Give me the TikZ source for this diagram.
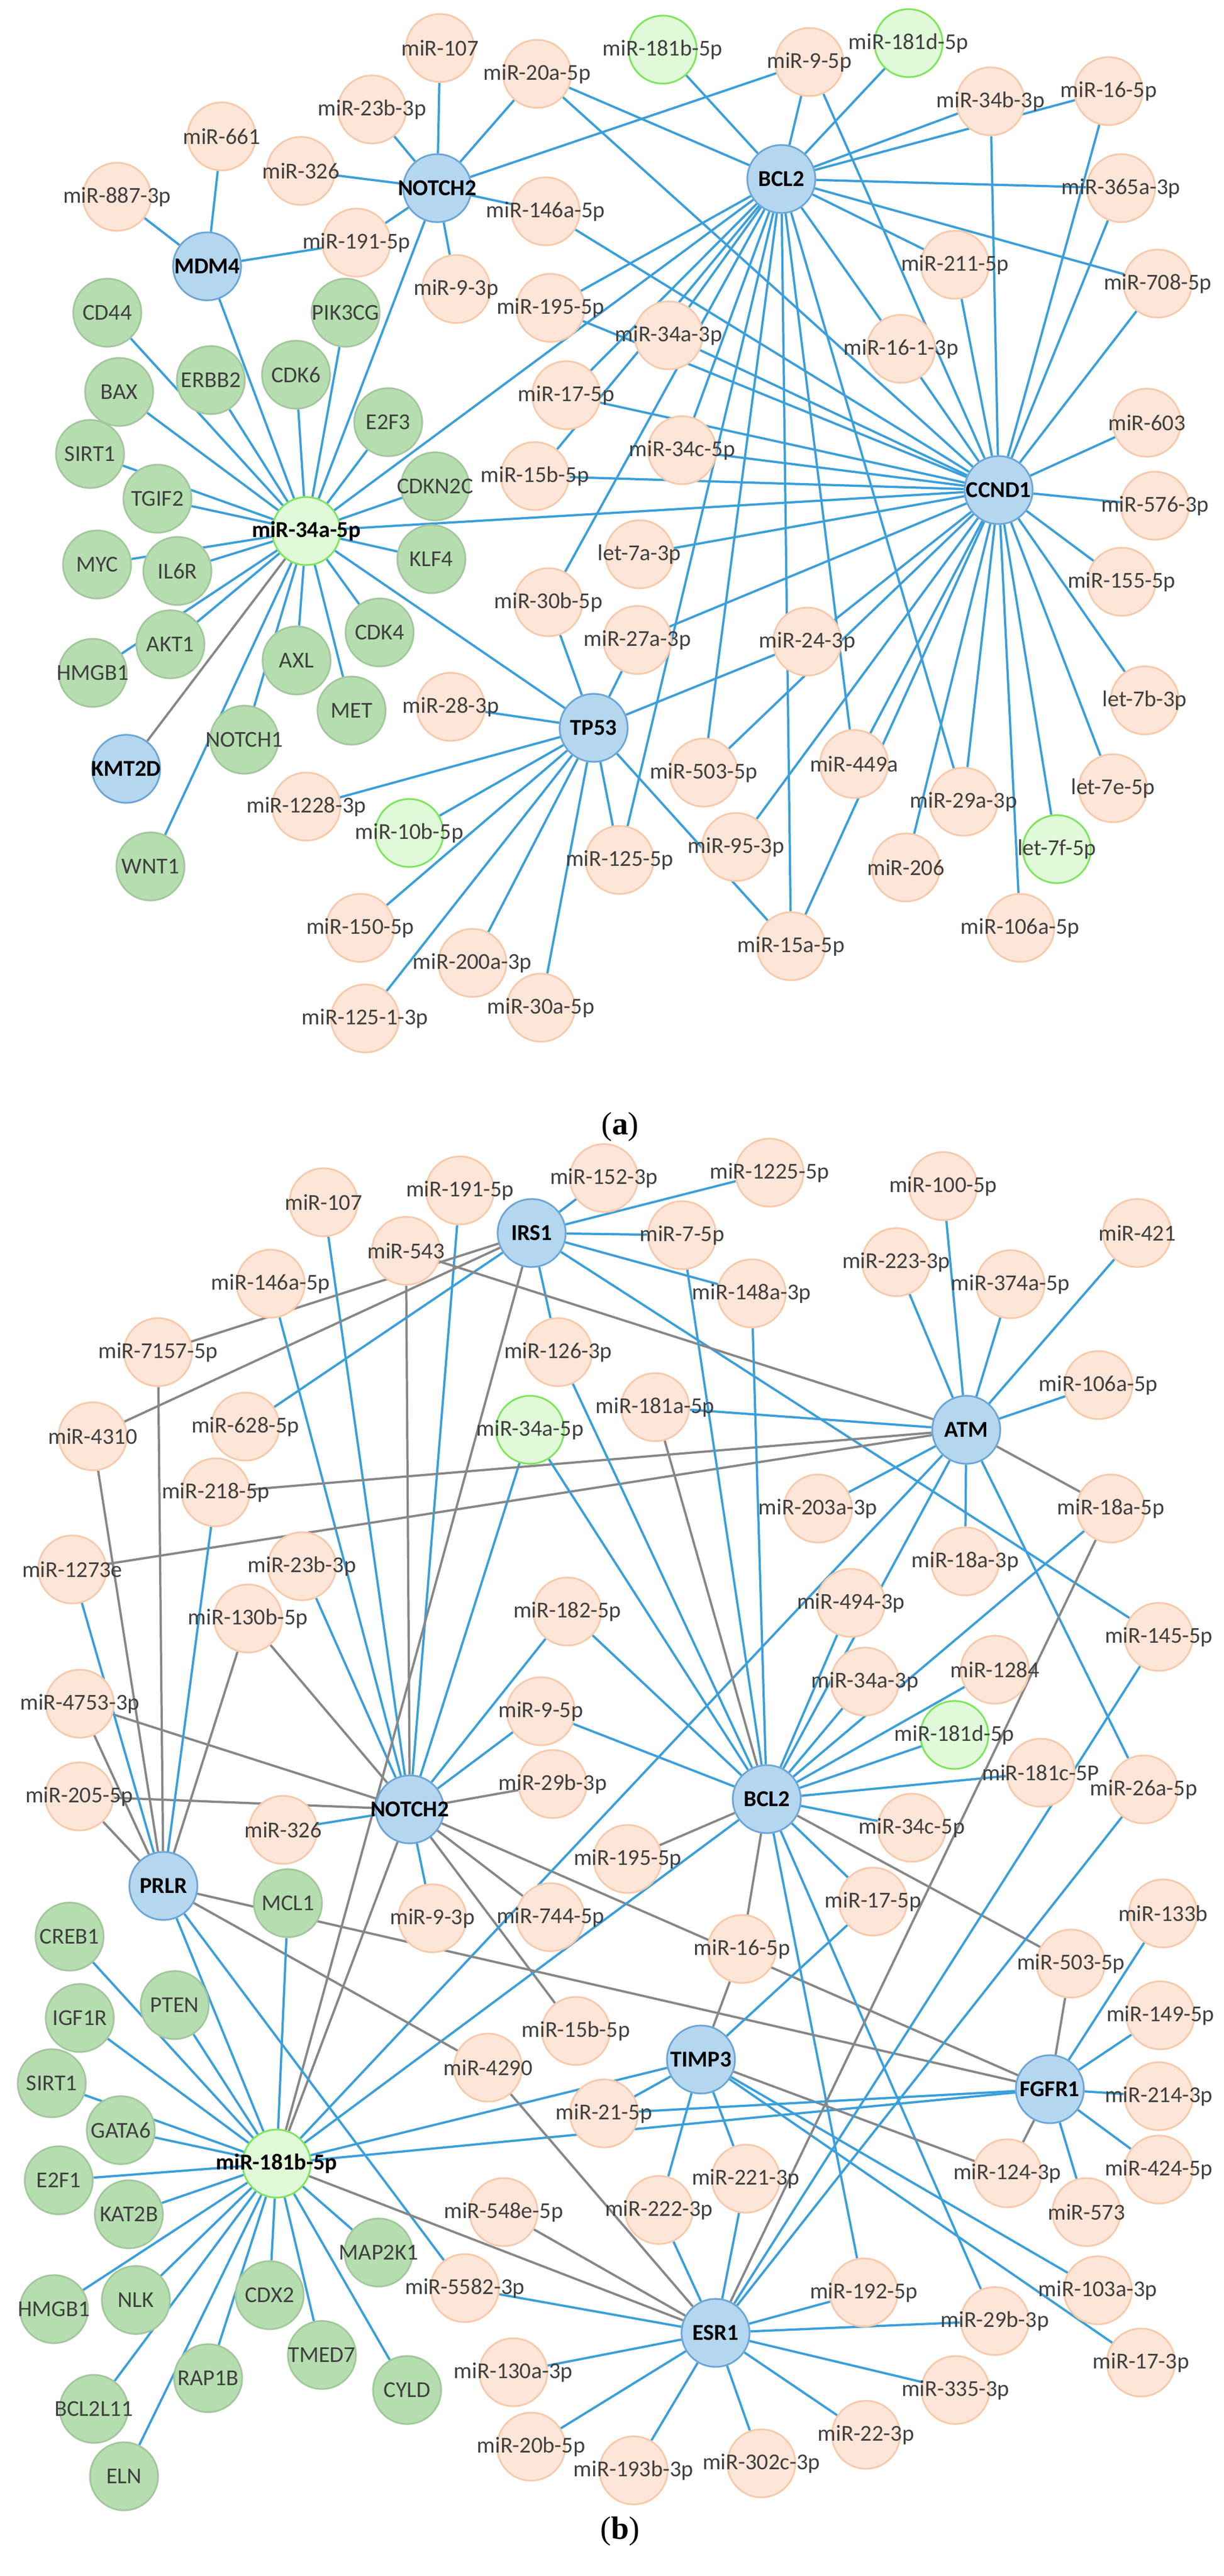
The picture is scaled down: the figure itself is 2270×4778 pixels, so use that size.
\documentclass[tikz,border=0pt]{standalone}
\usepackage{fontspec}
\setmainfont{Carlito}
\newfontfamily\capfont{Liberation Serif}
\usetikzlibrary{backgrounds}
\definecolor{mirfill}{HTML}{FDE6D8}
\definecolor{mirline}{HTML}{F8C9A9}
\definecolor{hubfill}{HTML}{B5D6EF}
\definecolor{hubline}{HTML}{6BA6D8}
\definecolor{genefill}{HTML}{B5DDAF}
\definecolor{lgfill}{HTML}{E0F9D8}
\definecolor{lgline}{HTML}{7CE65A}
\definecolor{edgeblue}{HTML}{3A9FDB}
\definecolor{edgegray}{HTML}{878787}
\begin{document}
\begin{tikzpicture}[x=0.01cm,y=-0.01cm,
  base/.style={circle,minimum size=12.6mm,inner sep=0pt,line width=0.9pt,
    label={[font=\fontsize{12}{14}\selectfont,text=black!75]center:#1}},
  mir/.style={base=#1,draw=mirline,fill=mirfill},
  mirg/.style={base=#1,draw=lgline,fill=lgfill},
  gene/.style={base=#1,draw=genefill!90!black,fill=genefill},
  hub/.style={circle,minimum size=12.6mm,inner sep=0pt,line width=0.9pt,draw=hubline,fill=hubfill,
    label={[font=\fontsize{12}{14}\selectfont\bfseries]center:#1}},
  mhub/.style={circle,minimum size=12.6mm,inner sep=0pt,line width=0.9pt,draw=lgline,fill=lgfill,
    label={[font=\fontsize{12}{14}\selectfont\bfseries]center:#1}},
  bl/.style={draw=edgeblue,line width=1.2pt},
  gr/.style={draw=edgegray,line width=1.2pt}]
\useasboundingbox (0,0) rectangle (2270,4778);

% ---------- panel (a) ----------
\node[mir=miR-107] (a107) at (816,89) {};
\node[mir=miR-20a-5p] (a20a) at (996,137) {};
\node[mirg=miR-181b-5p] (a181b) at (1229,92) {};
\node[mir=miR-9-5p] (a9f) at (1501,115) {};
\node[mirg=miR-181d-5p] (a181d) at (1685,80) {};
\node[mir=miR-23b-3p] (a23b) at (690,203) {};
\node[mir=miR-661] (a661) at (411,253) {};
\node[mir=miR-326] (a326) at (558,317) {};
\node[hub=NOTCH2] (aNOTCH2) at (811,349) {};
\node[mir=miR-887-3p] (a887) at (217,365) {};
\node[mir=miR-146a-5p] (a146a) at (1012,392) {};
\node[hub=BCL2] (aBCL2) at (1449,332) {};
\node[mir=miR-34b-3p] (a34b) at (1837,188) {};
\node[mir=miR-16-5p] (a16) at (2056,169) {};
\node[mir=miR-365a-3p] (a365a) at (2079,349) {};
\node[hub=MDM4] (aMDM4) at (384,494) {};
\node[mir=miR-191-5p] (a191) at (661,450) {};
\node[mir=miR-9-3p] (a9t) at (846,536) {};
\node[mir=miR-195-5p] (a195) at (1021,571) {};
\node[mir=miR-211-5p] (a211) at (1771,491) {};
\node[mir=miR-708-5p] (a708) at (2147,526) {};
\node[gene=CD44] (aCD44) at (199,580) {};
\node[gene=PIK3CG] (aPIK3CG) at (641,580) {};
\node[gene=ERBB2] (aERBB2) at (391,705) {};
\node[gene=CDK6] (aCDK6) at (549,695) {};
\node[gene=BAX] (aBAX) at (221,727) {};
\node[gene=E2F3] (aE2F3) at (720,783) {};
\node[gene=SIRT1] (aSIRT1) at (167,842) {};
\node[gene=TGIF2] (aTGIF2) at (292,925) {};
\node[gene=CDKN2C] (aCDKN2C) at (807,902) {};
\node[gene=MYC] (aMYC) at (180,1047) {};
\node[gene=IL6R] (aIL6R) at (329,1059) {};
\node[gene=KLF4] (aKLF4) at (800,1037) {};
\node[gene=AKT1] (aAKT1) at (316,1195) {};
\node[gene=HMGB1] (aHMGB1) at (172,1248) {};
\node[gene=CDK4] (aCDK4) at (704,1173) {};
\node[gene=AXL] (aAXL) at (550,1225) {};
\node[gene=MET] (aMET) at (652,1318) {};
\node[gene=NOTCH1] (aNOTCH1) at (453,1372) {};
\node[gene=WNT1] (aWNT1) at (279,1607) {};
\node[mir=miR-17-5p] (a17) at (1050,733) {};
\node[mir=miR-34a-3p] (a34a3) at (1240,622) {};
\node[mir=miR-16-1-3p] (a161) at (1671,647) {};
\node[mir=miR-15b-5p] (a15b) at (992,883) {};
\node[mir=miR-34c-5p] (a34c) at (1265,835) {};
\node[mir=miR-603] (a603) at (2127,784) {};
\node[hub=CCND1] (aCCND1) at (1852,909) {};
\node[mir=miR-576-3p] (a576) at (2142,938) {};
\node[mhub=miR-34a-5p] (a34a5) at (568,985) {};
\node[mir=let-7a-3p] (alet7a) at (1186,1028) {};
\node[mir=miR-155-5p] (a155) at (2080,1079) {};
\node[mir=miR-30b-5p] (a30b) at (1017,1117) {};
\node[mir=miR-27a-3p] (a27a) at (1182,1187) {};
\node[mir=miR-24-3p] (a24) at (1497,1190) {};
\node[mir=let-7b-3p] (alet7b) at (2123,1299) {};
\node[mir=miR-28-3p] (a28) at (836,1311) {};
\node[hub=TP53] (aTP53) at (1101,1350) {};
\node[hub=KMT2D] (aKMT2D) at (234,1426) {};
\node[mir=miR-503-5p] (a503) at (1305,1433) {};
\node[mir=miR-449a] (a449) at (1584,1417) {};
\node[mir=let-7e-5p] (alet7e) at (2064,1462) {};
\node[mir=miR-29a-3p] (a29a) at (1787,1487) {};
\node[mir=miR-1228-3p] (a1228) at (568,1496) {};
\node[mirg=miR-10b-5p] (a10b) at (759,1545) {};
\node[mir=miR-125-5p] (a125) at (1149,1595) {};
\node[mir=miR-95-3p] (a95) at (1365,1571) {};
\node[mir=miR-206] (a206) at (1680,1609) {};
\node[mirg=let-7f-5p] (alet7f) at (1960,1575) {};
\node[mir=miR-150-5p] (a150) at (668,1721) {};
\node[mir=miR-106a-5p] (a106a) at (1892,1721) {};
\node[mir=miR-15a-5p] (a15a) at (1467,1755) {};
\node[mir=miR-200a-3p] (a200a) at (876,1786) {};
\node[mir=miR-30a-5p] (a30a) at (1003,1869) {};
\node[mir=miR-125-1-3p] (a1251) at (677,1889) {};
\node[font=\capfont\fontsize{17}{20}\selectfont] (alab) at (1150,2090) {(\textbf{a})};

% ---------- panel (b) ----------
\node[mir=miR-107] (b107) at (600,2230) {};
\node[mir=miR-191-5p] (b191) at (853,2208) {};
\node[hub=IRS1] (bIRS1) at (986,2287) {};
\node[mir=miR-152-3p] (b152) at (1120,2185) {};
\node[mir=miR-1225-5p] (b1225) at (1427,2175) {};
\node[mir=miR-100-5p] (b100) at (1749,2200) {};
\node[mir=miR-7-5p] (b7) at (1265,2291) {};
\node[mir=miR-421] (b421) at (2109,2287) {};
\node[mir=miR-223-3p] (b223) at (1662,2341) {};
\node[mir=miR-148a-3p] (b148a) at (1394,2399) {};
\node[mir=miR-374a-5p] (b374a) at (1874,2382) {};
\node[mir=miR-543] (b543) at (753,2320) {};
\node[mir=miR-146a-5p] (b146a) at (502,2381) {};
\node[mir=miR-7157-5p] (b7157) at (293,2508) {};
\node[mir=miR-126-3p] (b126) at (1035,2508) {};
\node[mir=miR-106a-5p] (b106a) at (2037,2569) {};
\node[mir=miR-181a-5p] (b181a) at (1215,2610) {};
\node[hub=ATM] (bATM) at (1792,2652) {};
\node[mir=miR-4310] (b4310) at (172,2664) {};
\node[mir=miR-628-5p] (b628) at (455,2646) {};
\node[mirg=miR-34a-5p] (b34a5) at (983,2652) {};
\node[mir=miR-218-5p] (b218) at (400,2768) {};
\node[mir=miR-203a-3p] (b203a) at (1517,2798) {};
\node[mir=miR-18a-5p] (b18a5) at (2060,2798) {};
\node[mir=miR-18a-3p] (b18a3) at (1790,2896) {};
\node[mir=miR-1273e] (b1273e) at (134,2911) {};
\node[mir=miR-23b-3p] (b23b) at (560,2905) {};
\node[mir=miR-494-3p] (b494) at (1578,2973) {};
\node[mir=miR-130b-5p] (b130b) at (460,3002) {};
\node[mir=miR-182-5p] (b182) at (1052,2989) {};
\node[mir=miR-145-5p] (b145) at (2149,3036) {};
\node[mir=miR-34a-3p] (b34a3) at (1604,3119) {};
\node[mir=miR-1284] (b1284) at (1845,3097) {};
\node[mir=miR-4753-3p] (b4753) at (148,3160) {};
\node[mir=miR-9-5p] (b9f) at (1003,3174) {};
\node[mirg=miR-181d-5p] (b181d) at (1770,3218) {};
\node[mir=miR-181c-5P] (b181c) at (1930,3288) {};
\node[mir=miR-29b-3p] (b29l) at (1025,3309) {};
\node[mir=miR-26a-5p] (b26a) at (2121,3319) {};
\node[mir=miR-205-5p] (b205) at (147,3332) {};
\node[hub=NOTCH2] (bNOTCH2) at (760,3356) {};
\node[hub=BCL2] (bBCL2) at (1422,3337) {};
\node[mir=miR-326] (b326) at (525,3394) {};
\node[mir=miR-34c-5p] (b34c) at (1691,3390) {};
\node[mir=miR-195-5p] (b195) at (1164,3448) {};
\node[hub=PRLR] (bPRLR) at (303,3498) {};
\node[gene=MCL1] (bMCL1) at (534,3530) {};
\node[mir=miR-17-5p] (b17) at (1619,3527) {};
\node[mir=miR-133b] (b133b) at (2157,3549) {};
\node[mir=miR-9-3p] (b9t) at (802,3558) {};
\node[mir=miR-744-5p] (b744) at (1021,3556) {};
\node[gene=CREB1] (bCREB1) at (129,3592) {};
\node[mir=miR-16-5p] (b16) at (1376,3615) {};
\node[mir=miR-503-5p] (b503) at (1986,3642) {};
\node[gene=PTEN] (bPTEN) at (324,3719) {};
\node[gene=IGF1R] (bIGF1R) at (148,3743) {};
\node[mir=miR-149-5p] (b149) at (2152,3738) {};
\node[mir=miR-15b-5p] (b15b) at (1068,3767) {};
\node[hub=TIMP3] (bTIMP3) at (1300,3820) {};
\node[mir=miR-4290] (b4290) at (905,3835) {};
\node[gene=SIRT1] (bSIRT1) at (96,3864) {};
\node[hub=FGFR1] (bFGFR1) at (1947,3875) {};
\node[mir=miR-214-3p] (b214) at (2149,3888) {};
\node[mir=miR-21-5p] (b21) at (1120,3920) {};
\node[gene=GATA6] (bGATA6) at (224,3951) {};
\node[mhub=miR-181b-5p] (b181b) at (513,4013) {};
\node[mir=miR-124-3p] (b124) at (1868,4031) {};
\node[mir=miR-424-5p] (b424) at (2149,4024) {};
\node[mir=miR-221-3p] (b221) at (1383,4041) {};
\node[gene=E2F1] (bE2F1) at (109,4044) {};
\node[mir=miR-222-3p] (b222) at (1222,4099) {};
\node[mir=miR-548e-5p] (b548) at (934,4103) {};
\node[gene=KAT2B] (bKAT2B) at (239,4107) {};
\node[mir=miR-573] (b573) at (2015,4103) {};
\node[gene=MAP2K1] (bMAP2K1) at (702,4178) {};
\node[mir=miR-5582-3p] (b5582) at (862,4244) {};
\node[mir=miR-192-5p] (b192) at (1602,4252) {};
\node[mir=miR-103a-3p] (b103a) at (2036,4248) {};
\node[gene=CDX2] (bCDX2) at (500,4257) {};
\node[gene=NLK] (bNLK) at (252,4266) {};
\node[gene=HMGB1] (bHMGB1) at (100,4283) {};
\node[mir=miR-29b-3p] (b29r) at (1845,4305) {};
\node[hub=ESR1] (bESR1) at (1327,4327) {};
\node[gene=TMED7] (bTMED7) at (597,4368) {};
\node[mir=miR-17-3p] (b17t) at (2116,4382) {};
\node[mir=miR-130a-3p] (b130a) at (952,4400) {};
\node[gene=RAP1B] (bRAP1B) at (386,4411) {};
\node[gene=CYLD] (bCYLD) at (755,4433) {};
\node[mir=miR-335-3p] (b335) at (1772,4433) {};
\node[gene=BCL2L11] (bBCL2L11) at (174,4468) {};
\node[mir=miR-22-3p] (b22) at (1606,4516) {};
\node[mir=miR-20b-5p] (b20b) at (985,4538) {};
\node[mir=miR-302c-3p] (b302c) at (1412,4569) {};
\node[mir=miR-193b-3p] (b193b) at (1175,4582) {};
\node[gene=ELN] (bELN) at (230,4593) {};
\node[font=\capfont\fontsize{17}{20}\selectfont] (blab) at (1150,4695) {(\textbf{b})};

% ---------- edges ----------
\begin{scope}[on background layer]
  \foreach \t in {aCD44,aBAX,aSIRT1,aTGIF2,aMYC,aIL6R,aAKT1,aHMGB1,aERBB2,aCDK6,aPIK3CG,aE2F3,aCDKN2C,aKLF4,aCDK4,aAXL,aMET,aNOTCH1,aWNT1,aMDM4,aNOTCH2,aTP53,aCCND1,aBCL2}
    \draw[bl] (a34a5) -- (\t);
  \draw[gr] (a34a5) -- (aKMT2D);
  \foreach \t in {a107,a23b,a326,a191,a9t,a20a,a146a,a9f}
    \draw[bl] (aNOTCH2) -- (\t);
  \foreach \t in {a887,a661,a191}
    \draw[bl] (aMDM4) -- (\t);
  \foreach \t in {a181b,a9f,a181d,a34b,a16,a365a,a708,a211,a161,a20a,a195,a17,a15b,a34a3,a34c,a30b,a503,a449,a29a,a125,a15a}
    \draw[bl] (aBCL2) -- (\t);
  \foreach \t in {a16,a34b,a365a,a708,a211,a161,a9f,a20a,a146a,a195,a17,a15b,a34a3,a34c,a603,a576,a155,alet7b,alet7e,alet7f,a106a,a29a,a206,a449,a95,a503,a24,a27a,alet7a,a15a}
    \draw[bl] (aCCND1) -- (\t);
  \foreach \t in {a28,a1228,a10b,a150,a200a,a30a,a1251,a125,a15a,a30b,a27a,a24}
    \draw[bl] (aTP53) -- (\t);

  \foreach \t in {b107,b146a,b191,b23b,b326,b9f,b182,b34a5,b9t}
    \draw[bl] (bNOTCH2) -- (\t);
  \foreach \t in {b543,b130b,b4753,b205,b29l,b744,b15b,bFGFR1,b181b}
    \draw[gr] (bNOTCH2) -- (\t);
  \foreach \t in {b152,b1225,b7,b148a,b126,b628,b145}
    \draw[bl] (bIRS1) -- (\t);
  \foreach \t in {b7157,b4310,b181b}
    \draw[gr] (bIRS1) -- (\t);
  \foreach \t in {b100,b223,b374a,b421,b106a,b181a,b18a3,b203a,b26a,bBCL2,b181b}
    \draw[bl] (bATM) -- (\t);
  \foreach \t in {b543,b218,b1273e,b18a5}
    \draw[gr] (bATM) -- (\t);
  \foreach \t in {b148a,b7,b494,b34a3,b1284,b181d,b181c,b34c,b182,b9f,b126,b34a5,b17,b192,b29r,b18a5,b181b}
    \draw[bl] (bBCL2) -- (\t);
  \foreach \t in {b181a,b16,b195,b503}
    \draw[gr] (bBCL2) -- (\t);
  \foreach \t in {b1273e,b218,b181b,b5582}
    \draw[bl] (bPRLR) -- (\t);
  \foreach \t in {b4310,b7157,b4753,b205,b130b,b4290,bFGFR1}
    \draw[gr] (bPRLR) -- (\t);
  \foreach \t in {bCREB1,bIGF1R,bPTEN,bSIRT1,bGATA6,bE2F1,bKAT2B,bHMGB1,bNLK,bBCL2L11,bELN,bRAP1B,bCDX2,bTMED7,bCYLD,bMAP2K1,bMCL1,bTIMP3,bFGFR1}
    \draw[bl] (b181b) -- (\t);
  \foreach \t in {b17,b21,b222,b221,b103a,b17t}
    \draw[bl] (bTIMP3) -- (\t);
  \foreach \t in {b16,b124}
    \draw[gr] (bTIMP3) -- (\t);
  \foreach \t in {b133b,b149,b214,b424,b573,b21}
    \draw[bl] (bFGFR1) -- (\t);
  \foreach \t in {b124,b503}
    \draw[gr] (bFGFR1) -- (\t);
  \foreach \t in {b222,b221,b192,b29r,b335,b22,b302c,b193b,b20b,b130a,b5582,b145,b26a}
    \draw[bl] (bESR1) -- (\t);
  \foreach \t in {b18a5,b548,b4290,b181b}
    \draw[gr] (bESR1) -- (\t);
\end{scope}
\end{tikzpicture}
\end{document}
